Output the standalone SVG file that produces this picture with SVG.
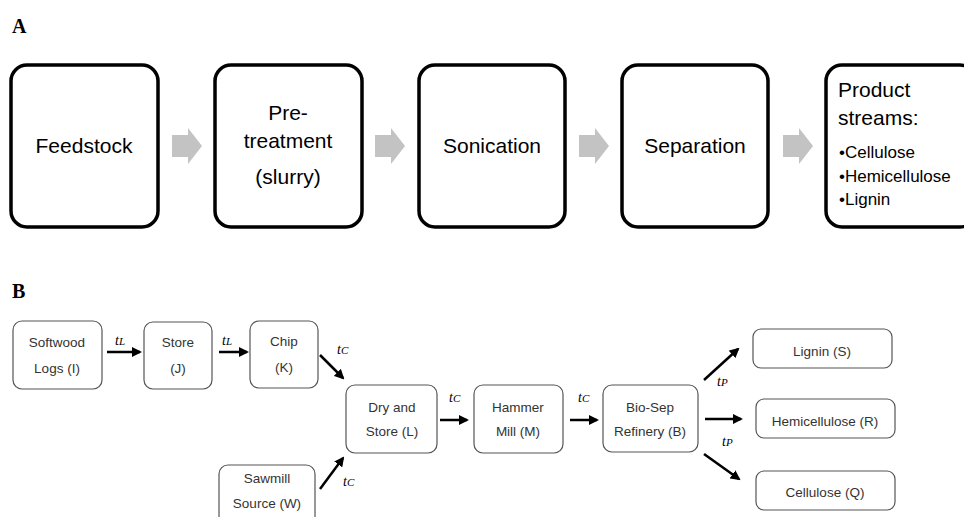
<svg xmlns="http://www.w3.org/2000/svg" width="964" height="517" viewBox="0 0 964 517">
<style>
.big{fill:#fff;stroke:#000;stroke-width:3.5}
.lbl{font-family:"Liberation Serif",serif;font-weight:bold;font-size:20px;fill:#000}
.ta{font-family:"Liberation Sans",sans-serif;font-size:21px;fill:#000;text-anchor:middle}
.tb{font-family:"Liberation Sans",sans-serif;font-size:17px;fill:#000}
.garr{fill:#c3c3c3}
.sm{fill:#fff;stroke:#555;stroke-width:1.2}
.ts{font-family:"Liberation Sans",sans-serif;font-size:13.5px;fill:#333;text-anchor:middle}
.con{stroke:#000;stroke-width:2.5;fill:none;marker-end:url(#ah)}
.math{font-family:"Liberation Serif",serif;font-style:italic;font-size:14px;fill:#000}
.sub{font-size:11px}
</style>
<defs>
<marker id="ah" viewBox="0 0 10 10" refX="8" refY="5" markerWidth="4" markerHeight="4" orient="auto" markerUnits="strokeWidth">
<path d="M0,0 L10,5 L0,10 z" fill="#000"/>
</marker>
<path id="garrow" d="M0,-11 L16,-11 L16,-18 L30,0 L16,18 L16,11 L0,11 z"/>
</defs>
<text class="lbl" x="12" y="33">A</text>
<g id="feedstock"><rect class="big" x="11" y="65" width="147" height="162" rx="16"/><text class="ta" x="84" y="153">Feedstock</text></g>
<g id="pretreatment"><rect class="big" x="215" y="65" width="147" height="162" rx="16"/><text class="ta" x="288" y="120">Pre-</text><text class="ta" x="288" y="148">treatment</text><text class="ta" x="288" y="184">(slurry)</text></g>
<g id="sonication"><rect class="big" x="419" y="65" width="146" height="162" rx="16"/><text class="ta" x="492" y="153">Sonication</text></g>
<g id="separation"><rect class="big" x="622" y="65" width="146" height="162" rx="16"/><text class="ta" x="695" y="153">Separation</text></g>
<g id="products"><rect class="big" x="826" y="65" width="150" height="162" rx="16"/>
<text class="ta" x="838" y="97" style="text-anchor:start">Product</text>
<text class="ta" x="838" y="125" style="text-anchor:start">streams:</text>
<text class="tb" x="839" y="158">•Cellulose</text>
<text class="tb" x="839" y="182">•Hemicellulose</text>
<text class="tb" x="839" y="205">•Lignin</text></g>
<g id="panelA-arrows" class="garr">
<use href="#garrow" x="172" y="146"/>
<use href="#garrow" x="375" y="146"/>
<use href="#garrow" x="579" y="146"/>
<use href="#garrow" x="783" y="146"/>
</g>
<text class="lbl" x="12" y="298">B</text>
<g id="softwood"><rect class="sm" x="13" y="321" width="89" height="68" rx="9"/><text class="ts" x="57" y="347">Softwood</text><text class="ts" x="57" y="373">Logs (I)</text></g>
<g id="store"><rect class="sm" x="144" y="322" width="68" height="67" rx="9"/><text class="ts" x="178" y="347">Store</text><text class="ts" x="178" y="373">(J)</text></g>
<g id="chip"><rect class="sm" x="250" y="321" width="68" height="67" rx="9"/><text class="ts" x="284" y="346">Chip</text><text class="ts" x="284" y="372">(K)</text></g>
<g id="dry"><rect class="sm" x="346" y="385" width="91" height="68" rx="9"/><text class="ts" x="392" y="412">Dry and</text><text class="ts" x="392" y="436">Store (L)</text></g>
<g id="hammer"><rect class="sm" x="474" y="385" width="89" height="68" rx="9"/><text class="ts" x="518" y="412">Hammer</text><text class="ts" x="518" y="436">Mill (M)</text></g>
<g id="biosep"><rect class="sm" x="603" y="385" width="95" height="67" rx="9"/><text class="ts" x="650" y="412">Bio-Sep</text><text class="ts" x="650" y="436">Refinery (B)</text></g>
<g id="sawmill"><rect class="sm" x="219" y="465" width="96" height="70" rx="9"/><text class="ts" x="267" y="483">Sawmill</text><text class="ts" x="267" y="508">Source (W)</text></g>
<g id="lignin"><rect class="sm" x="753" y="329" width="139" height="39" rx="8"/><text class="ts" x="822" y="356">Lignin (S)</text></g>
<g id="hemi"><rect class="sm" x="756" y="399" width="139" height="39" rx="8"/><text class="ts" x="825" y="426">Hemicellulose (R)</text></g>
<g id="cellulose"><rect class="sm" x="756" y="471" width="139" height="39" rx="8"/><text class="ts" x="825" y="497">Cellulose (Q)</text></g>
<g id="connectors">
<line class="con" x1="107" y1="352" x2="140" y2="352"/>
<line class="con" x1="219" y1="352" x2="247" y2="352"/>
<line class="con" x1="320" y1="355" x2="343" y2="378"/>
<line class="con" x1="320" y1="489" x2="343" y2="458"/>
<line class="con" x1="440" y1="420" x2="467" y2="420"/>
<line class="con" x1="570" y1="420" x2="597" y2="420"/>
<line class="con" x1="704" y1="380" x2="738" y2="349"/>
<line class="con" x1="705" y1="419" x2="741" y2="419"/>
<line class="con" x1="704" y1="454" x2="739" y2="479"/>
</g>
<g id="labels">
<text class="math" x="115" y="345">t<tspan class="sub">L</tspan></text>
<text class="math" x="222" y="345">t<tspan class="sub">L</tspan></text>
<text class="math" x="337" y="354">t<tspan class="sub">C</tspan></text>
<text class="math" x="343" y="486">t<tspan class="sub">C</tspan></text>
<text class="math" x="449" y="402">t<tspan class="sub">C</tspan></text>
<text class="math" x="578" y="402">t<tspan class="sub">C</tspan></text>
<text class="math" x="717" y="386">t<tspan class="sub">P</tspan></text>
<text class="math" x="722" y="446">t<tspan class="sub">P</tspan></text>
</g>
</svg>
